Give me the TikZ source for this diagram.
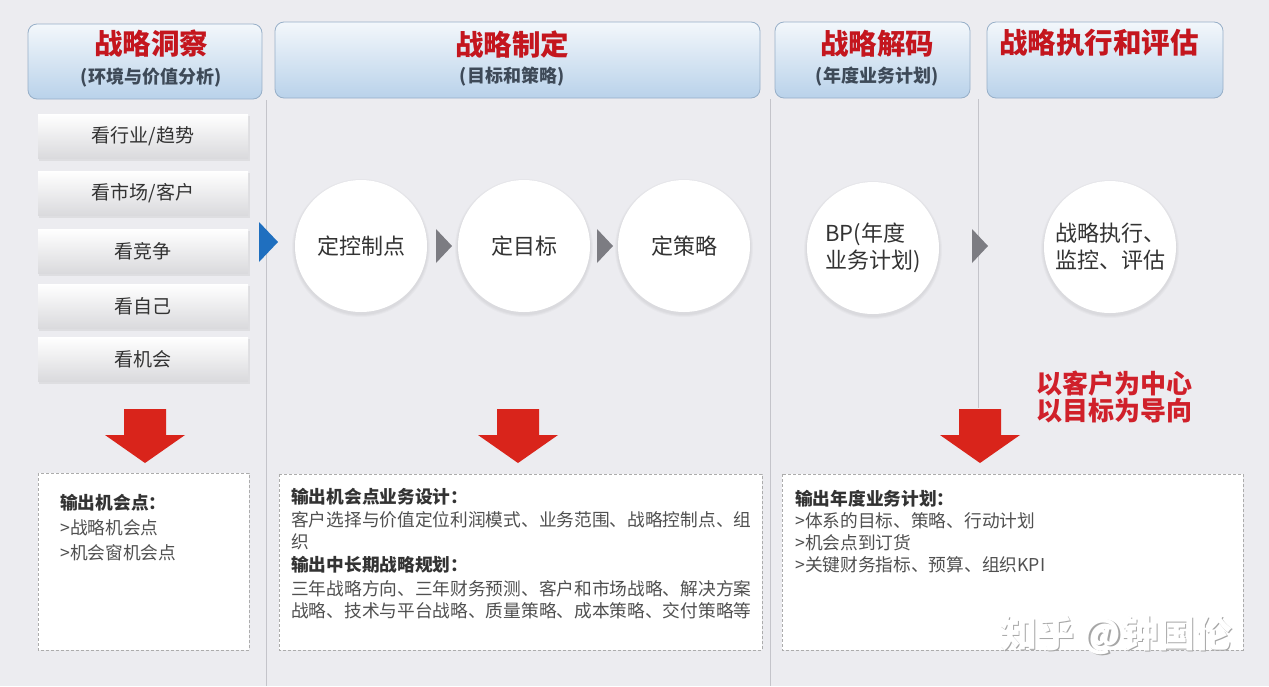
\documentclass[tikz,border=0pt]{standalone}
\usepackage{fontspec}
\setmainfont{Noto Sans CJK SC}
\definecolor{bg}{HTML}{ECECF0}
\definecolor{hdrtop}{HTML}{F3F7FB}
\definecolor{hdrbot}{HTML}{B9D2EA}
\definecolor{hdrborder}{HTML}{97AFC8}
\definecolor{titlered}{HTML}{C4161E}
\definecolor{subgray}{HTML}{3E4A58}
\definecolor{boxbot}{HTML}{DADADD}
\definecolor{sepgray}{HTML}{C4C4CA}
\definecolor{bluetri}{HTML}{1F6FBF}
\definecolor{graytri}{HTML}{7C7C82}
\definecolor{arrowred}{HTML}{D9241B}
\definecolor{txtgray}{HTML}{505050}
\definecolor{txtdark}{HTML}{333333}
\definecolor{emred}{HTML}{D0202A}
\begin{document}
\begin{tikzpicture}[x=1pt,y=-1pt,
  hdr/.style={draw=hdrborder, line width=0.8pt, rounded corners=9pt, top color=hdrtop, bottom color=hdrbot, inner sep=0pt},
  htitle/.style={text=titlered, font=\fontsize{28.5}{32}\selectfont\bfseries},
  hsub/.style={text=subgray, font=\fontsize{18}{22}\selectfont\bfseries},
  sep/.style={draw=sepgray, line width=0.9pt},
  lbox/.style={top color=white, bottom color=boxbot, minimum width=210pt, minimum height=44pt, inner sep=0pt, text=txtdark, font=\fontsize{19}{22}\selectfont},
  lshadow/.style={fill=black, opacity=0.06},
  circ/.style={circle, fill=white, minimum size=132pt, inner sep=0pt, text=txtdark, font=\fontsize{22}{27}\selectfont},
  cshadow/.style={fill=black, opacity=0.025},
  obox/.style={draw=gray!65, densely dashed, line width=0.7pt, fill=white},
  otxt/.style={anchor=west, inner sep=0pt, text=txtgray, font=\fontsize{17.7}{20}\selectfont},
  ohead/.style={otxt, text=txtdark, font=\fontsize{17.7}{20}\selectfont\bfseries},
  emtxt/.style={anchor=west, inner sep=0pt, text=emred, font=\fontsize{26}{30}\selectfont\bfseries}
]
\useasboundingbox (0,0) rectangle (1269,686);
\fill[bg] (0,0) rectangle (1269,686);

% separators
\coordinate (s1t) at (266,100); \coordinate (s1b) at (266,686);
\coordinate (s2t) at (770,99);  \coordinate (s2b) at (770,686);
\coordinate (s3t) at (978,99);  \coordinate (s3b) at (978,408);
\draw[sep] (s1t) -- (s1b);
\draw[sep] (s2t) -- (s2b);
\draw[sep] (s3t) -- (s3b);

% headers
\node[hdr, minimum width=234pt, minimum height=75pt] (h1) at (145,61.5) {};
\node[hdr, minimum width=485pt, minimum height=76pt] (h2) at (517.5,60) {};
\node[hdr, minimum width=195pt, minimum height=76pt] (h3) at (872.5,60) {};
\node[hdr, minimum width=236pt, minimum height=76pt] (h4) at (1105,60) {};
\node[htitle] (h1t) at (151,44) {战略洞察};
\node[hsub]   (h1s) at (151,78) {(环境与价值分析)};
\node[htitle] (h2t) at (512,44) {战略制定};
\node[hsub]   (h2s) at (512,77) {(目标和策略)};
\node[htitle] (h3t) at (877,44) {战略解码};
\node[hsub]   (h3s) at (877,77) {(年度业务计划)};
\node[htitle] (h4t) at (1099,43) {战略执行和评估};

% left boxes
\foreach \y/\t/\n in {136/{看行业/趋势}/a, 193/{看市场/客户}/b, 251/看竞争/c, 306/看自己/d, 359/看机会/e}{
  \fill[lshadow] (39,\y-20) rectangle (250,\y+25);
  \node[lbox] (l\n) at (143,\y) {\t};
}

% blue triangle
\fill[bluetri] (259,222) -- (278,242) -- (259,262) -- cycle;

% circles (soft shadow)
\foreach \x/\y in {361/246, 524/246, 684/246, 873/248, 1110/247}{
  \foreach \r in {69,68,67}{ \fill[cshadow] (\x,\y+2) circle (\r); }
}
\node[circ] (c1) at (361,246) {定控制点};
\node[circ] (c2) at (524,246) {定目标};
\node[circ] (c3) at (684,246) {定策略};
\node[circ, align=left] (c4) at (873,248) {BP(年度\\业务计划)};
\node[circ, align=left] (c5) at (1110,247) {战略执行、\\监控、评估};

% gray triangles
\fill[graytri] (436,229) -- (452,246) -- (436,263) -- cycle;
\fill[graytri] (597,229) -- (613,246) -- (597,263) -- cycle;
\fill[graytri] (972,229) -- (988,246) -- (972,263) -- cycle;

% red arrows
\foreach \x in {145,518,980}{
  \fill[arrowred] (\x-21,409) -- (\x+21,409) -- (\x+21,435) -- (\x+40,435) -- (\x,463) -- (\x-40,435) -- (\x-21,435) -- cycle;
}

% emphasis
\node[emtxt] (em1) at (1036,384) {以客户为中心};
\node[emtxt] (em2) at (1036,411) {以目标为导向};

% output boxes
\draw[obox] (38,473) rectangle (249,650);
\draw[obox] (279,474) rectangle (762,650);
\draw[obox] (782,474) rectangle (1243,650);

\node[ohead] (o1a) at (60,503) {输出机会点：};
\node[otxt]  (o1b) at (60,528) {>战略机会点};
\node[otxt]  (o1c) at (60,553) {>机会窗机会点};

\node[ohead] (o2a) at (291,497) {输出机会点业务设计：};
\node[otxt]  (o2b) at (291,520) {客户选择与价值定位利润模式、业务范围、战略控制点、组};
\node[otxt]  (o2c) at (291,542) {织};
\node[ohead] (o2d) at (291,565) {输出中长期战略规划：};
\node[otxt]  (o2e) at (291,589) {三年战略方向、三年财务预测、客户和市场战略、解决方案};
\node[otxt]  (o2f) at (291,611) {战略、技术与平台战略、质量策略、成本策略、交付策略等};

\node[ohead] (o3a) at (795,499) {输出年度业务计划：};
\node[otxt]  (o3b) at (795,521) {>体系的目标、策略、行动计划};
\node[otxt]  (o3c) at (795,543) {>机会点到订货};
\node[otxt]  (o3d) at (795,565) {>关键财务指标、预算、组织KPI};

% watermark
\node[anchor=west, inner sep=0pt, text=gray!70, font=\fontsize{37}{40}\selectfont\bfseries] (wms) at (1001.5,636.5) {知乎 @钟国伦};
\node[anchor=west, inner sep=0pt, text=white, font=\fontsize{37}{40}\selectfont\bfseries] (wm) at (1000,635) {知乎 @钟国伦};
\end{tikzpicture}
\end{document}
